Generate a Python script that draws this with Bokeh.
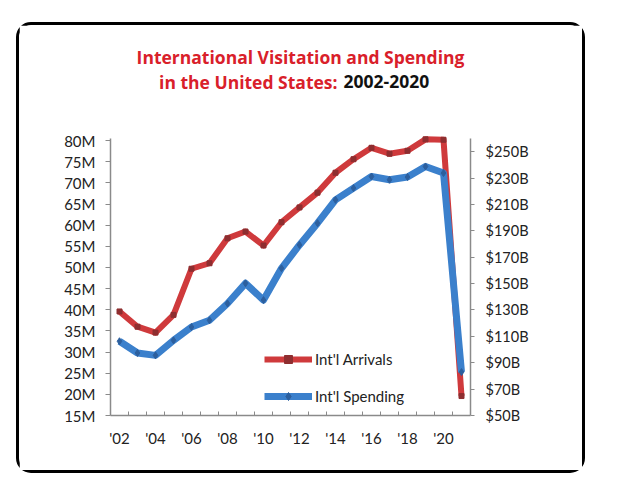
from bokeh.plotting import figure
from bokeh.models import (Range1d, LinearAxis, FixedTicker, Label,
                          Legend, LegendItem, ColumnDataSource)
from bokeh.embed import file_html
from bokeh.resources import INLINE

years = list(range(2002, 2022))
arrivals_m = [39.6, 36.0, 34.6, 38.8, 49.7, 51.0, 56.9, 58.5, 55.2, 60.7,
              64.2, 67.7, 72.4, 75.6, 78.3, 76.9, 77.6, 80.3, 80.2, 19.6]
spending_b = [106.3, 97.4, 95.6, 107.0, 117.1, 122.2, 134.9, 150.2, 137.5, 161.6,
              179.3, 195.8, 213.5, 222.4, 231.2, 228.7, 230.8, 238.8, 233.8, 82.9]
x_tick_years = list(range(2002, 2021, 2))
x_tick_labels = ["'%02d" % (y % 100) for y in x_tick_years]
left_ticks = list(range(15, 81, 5))
left_labels = ["%dM" % v for v in left_ticks]
right_ticks = list(range(50, 251, 20))
right_labels = ["$%dB" % v for v in right_ticks]
series_names = ["Int'l Arrivals", "Int'l Spending"]
title_line1 = "International Visitation and Spending"
title_line2a = "in the United States:"
title_line2b = "2002-2020"

RED = "#CF3A3C"
BLUE = "#3B80CC"
FONT = "Lato"
TFONT = "Open Sans"

# page geometry (pixels in the 620x486 window)
OX, OY = 19, 25            # top-left of the figure canvas inside the rounded border
PL, PR, PT, PB = 110, 470, 138, 415   # plot area (axes) on the page
CW, CH = 569, 451          # figure size (border box)

FL, FR, FB = PL - OX, PR - OX, PB - OY
LEFT_LO, LEFT_HI = 15, 80.5
RIGHT_LO, RIGHT_HI = 50, 260
frame_h = FB               # frame reaches the top of the canvas
axis_h = PB - PT
left_end = LEFT_LO + (LEFT_HI - LEFT_LO) * frame_h / axis_h
right_end = RIGHT_LO + (RIGHT_HI - RIGHT_LO) * frame_h / axis_h

p = figure(width=CW, height=CH, output_backend="svg", toolbar_location=None,
           x_range=Range1d(2001.5, 2021.5), y_range=Range1d(LEFT_LO, left_end),
           min_border_left=FL, min_border_right=CW - FR, min_border_top=0,
           min_border_bottom=CH - FB, x_axis_location=None, y_axis_location=None)
p.margin = (OY - 3, 0, 0, OX - 3)
p.styles = {"border": "3px solid black", "border-radius": "15px"}
p.outline_line_color = None
p.grid.visible = False
p.background_fill_color = "white"
p.border_fill_color = "white"
p.extra_y_ranges = {"spend": Range1d(RIGHT_LO, right_end)}

def style_axis(ax):
    ax.axis_line_color = "#8a8a8a"
    ax.axis_line_width = 1.5
    ax.major_tick_line_color = "#8a8a8a"
    ax.minor_tick_line_color = "#8a8a8a"
    ax.major_label_text_font = FONT
    ax.major_label_text_font_size = "15px"
    ax.major_label_text_color = "#222222"

left = LinearAxis(ticker=FixedTicker(ticks=left_ticks, minor_ticks=[]),
                  major_label_overrides=dict(zip(left_ticks, left_labels)),
                  bounds=(LEFT_LO, LEFT_HI))
style_axis(left)
left.major_tick_out = 5
left.major_tick_in = 0
left.minor_tick_out = 0
left.minor_tick_in = 0
left.major_label_standoff = 10
p.add_layout(left, "left")

right = LinearAxis(y_range_name="spend",
                   ticker=FixedTicker(ticks=right_ticks, minor_ticks=[]),
                   major_label_overrides=dict(zip(right_ticks, right_labels)),
                   bounds=(RIGHT_LO, RIGHT_HI))
style_axis(right)
right.major_label_text_font_size = "14.5px"
right.major_tick_out = 4
right.major_tick_in = 0
right.minor_tick_out = 0
right.minor_tick_in = 0
right.major_label_standoff = 11
p.add_layout(right, "right")

bottom = LinearAxis(ticker=FixedTicker(ticks=x_tick_years,
                                       minor_ticks=[y + 0.5 for y in years[:-1]]),
                    major_label_overrides=dict(zip(x_tick_years, x_tick_labels)))
style_axis(bottom)
bottom.major_tick_out = 0
bottom.major_tick_in = 0
bottom.minor_tick_out = 0
bottom.minor_tick_in = 4
bottom.major_label_standoff = 13
p.add_layout(bottom, "below")

src = ColumnDataSource(dict(year=years, arr=arrivals_m, spend=spending_b))
rl = p.line("year", "arr", source=src, line_color=RED, line_width=6, line_join="round")
rs = p.scatter("year", "arr", source=src, marker="square", size=5,
               fill_color="#8E2E30", line_color="#8E2E30")
bl = p.line("year", "spend", source=src, y_range_name="spend", line_color=BLUE,
            line_width=7, line_join="round")
bs = p.scatter("year", "spend", source=src, y_range_name="spend", marker="diamond",
               size=7, fill_color="#2C5F9E", line_color="#2C5F9E")

legend = Legend(items=[LegendItem(label=series_names[0], renderers=[rl, rs]),
                       LegendItem(label=series_names[1], renderers=[bl, bs])],
                location=(154, 9), orientation="vertical")
legend.border_line_color = None
legend.background_fill_alpha = 0
legend.padding = 0
legend.margin = 0
legend.spacing = 17
legend.glyph_width = 48
legend.glyph_height = 20
legend.label_height = 20
legend.label_standoff = 3
legend.label_text_font = FONT
legend.label_text_font_size = "15px"
legend.label_text_color = "#222222"
p.add_layout(legend, "center")

def sx(x):
    return x - PL

def sy(y):
    return PB - y

p.add_layout(Label(x=sx(300), y=sy(56), x_units="screen", y_units="screen",
                   text=title_line1, text_font=TFONT, text_font_style="bold",
                   text_font_size="17.5px", text_color="#D9202A",
                   text_align="center", text_baseline="middle"))
p.add_layout(Label(x=sx(337), y=sy(81), x_units="screen", y_units="screen",
                   text=title_line2a, text_font=TFONT, text_font_style="bold",
                   text_font_size="17.5px", text_color="#D9202A",
                   text_align="right", text_baseline="middle"))
p.add_layout(Label(x=sx(343), y=sy(81), x_units="screen", y_units="screen",
                   text=title_line2b, text_font=TFONT, text_font_style="bold",
                   text_font_size="17.5px", text_color="#111111",
                   text_align="left", text_baseline="middle"))

open("out.html", "w").write(file_html(p, INLINE))
